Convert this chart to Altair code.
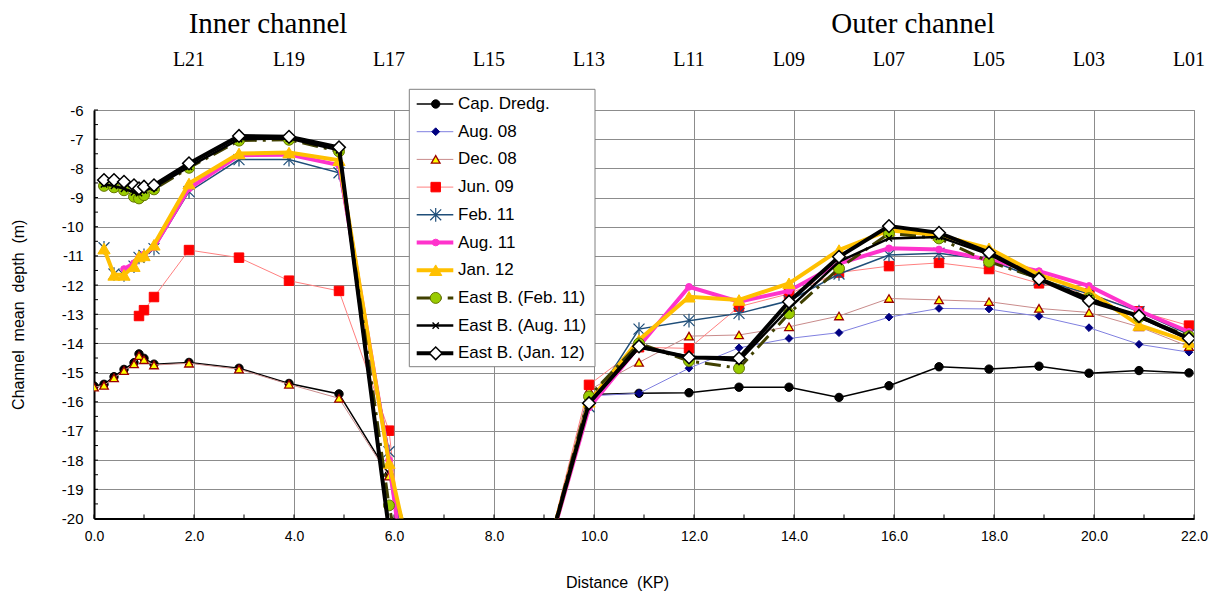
import altair as alt
import pandas as pd

# ---------------- data ----------------
KP_INNER = [0.0, 0.2, 0.4, 0.6, 0.8, 0.9, 1.0, 1.2, 1.9, 2.9, 3.9, 4.9, 5.9]
KP_GAP = [6.9, 8.9]
KP_OUTER = [9.9, 10.9, 11.9, 12.9, 13.9, 14.9, 15.9, 16.9, 17.9, 18.9, 19.9, 20.9, 21.9]
KP_ALL = KP_INNER + KP_GAP + KP_OUTER

SERIES = ["Cap. Dredg.", "Aug. 08", "Dec. 08", "Jun. 09", "Feb. 11", "Aug. 11",
          "Jan. 12", "East B. (Feb. 11)", "East B. (Aug. 11)", "East B. (Jan. 12)"]

N = None
cap_dredg = [-15.46, -15.40, -15.14, -14.89, -14.66, -14.36, -14.51, -14.71, -14.65, -14.85, -15.37, -15.73, -18.50,
             -24.0, -22.2,
             -15.75, -15.71, -15.69, -15.50, -15.50, -15.85, -15.45, -14.80, -14.88, -14.78, -15.02, -14.93, -15.01]
aug_08 = [N, N, N, N, N, N, N, N, N, N, N, N, N,
          N, -22.2,
          -15.80, -15.71, -14.85, -14.15, -13.83, -13.63, -13.10, -12.80, -12.82, -13.07, -13.46, -14.03, -14.30]
dec_08 = [-15.50, -15.44, -15.18, -14.93, -14.70, -14.42, -14.56, -14.74, -14.68, -14.88, -15.40, -15.88, -18.55,
          -28.0, -22.2,
          -15.60, -14.65, -13.75, -13.71, -13.43, -13.06, -12.46, -12.51, -12.57, -12.80, -12.94, -13.43, -14.11]
jun_09 = [N, N, N, N, N, -13.06, -12.86, -12.41, -10.80, -11.06, -11.85, -12.20, -16.99,
          -32.0, -22.2,
          -15.42, -14.13, -14.17, -12.74, -12.30, -11.57, -11.35, -11.24, -11.45, -11.94, -12.28, -12.90, -13.39]
feb_11 = [N, -10.72, -11.62, -11.65, -11.35, -11.05, -10.98, -10.75, -8.80, -7.70, -7.70, -8.15, -17.71,
          -30.0, -22.2,
          -16.17, -13.51, -13.22, -12.97, -12.54, -11.62, -10.97, -10.91, -11.14, -11.80, -12.30, -12.91, -13.70]
aug_11 = [N, N, N, -11.45, -11.25, -11.05, -10.95, -10.70, -8.69, -7.55, -7.53, -7.89, -18.00,
          -31.0, -22.2,
          -16.20, -14.10, -12.06, -12.57, -12.20, -11.26, -10.74, -10.78, -11.14, -11.52, -12.03, -12.88, -13.60]
jan_12 = [N, -10.75, -11.65, -11.65, -11.35, -11.02, -10.98, -10.62, -8.52, -7.49, -7.46, -7.72, -18.10,
          -25.7, -22.2,
          -16.00, -13.88, -12.40, -12.51, -11.94, -10.80, -10.12, -10.29, -10.74, -11.65, -12.22, -13.37, -13.95]
eastb_feb_11 = [N, -8.60, -8.65, -8.75, -8.97, -9.03, -8.92, -8.72, -7.98, -7.05, -7.02, -7.42, -19.55,
                -28.0, -22.2,
                -15.82, -14.00, -14.60, -14.85, -12.97, -11.43, -10.23, -10.40, -11.20, -11.77, -12.45, -13.10, -13.75]
eastb_aug_11 = [N, -8.55, -8.60, -8.70, -8.82, -8.85, -8.75, -8.65, -7.95, -7.00, -6.98, -7.38, -20.30,
                -28.0, -22.2,
                -16.05, -14.15, -14.45, -14.60, -12.80, -11.20, -10.40, -10.35, -10.95, -11.80, -12.45, -13.10, -13.85]
eastb_jan_12 = [N, -8.40, -8.40, -8.46, -8.58, -8.69, -8.63, -8.58, -7.83, -6.89, -6.92, -7.28, -20.40,
                -28.0, -22.2,
                -16.05, -14.10, -14.48, -14.51, -12.57, -11.03, -9.98, -10.21, -10.89, -11.79, -12.54, -13.06, -13.83]

VALUES = [cap_dredg, aug_08, dec_08, jun_09, feb_11, aug_11, jan_12, eastb_feb_11, eastb_aug_11, eastb_jan_12]

SURVEY_KP = [1.9, 3.9, 5.9, 7.9, 9.9, 11.9, 13.9, 15.9, 17.9, 19.9, 21.9]
SURVEY_LABELS = ["L21", "L19", "L17", "L15", "L13", "L11", "L09", "L07", "L05", "L03", "L01"]

X_TICKS = [0, 2, 4, 6, 8, 10, 12, 14, 16, 18, 20, 22]
Y_TICKS = list(range(-20, -5))
X_MINOR = list(range(0, 23))
Y_MINOR = [v / 2 for v in range(-40, -11)]

rows = []
for name, vals in zip(SERIES, VALUES):
    for kp, d in zip(KP_ALL, vals):
        if d is not None:
            rows.append({"series": name, "kp": kp, "depth": d})
data = pd.DataFrame(rows)

# ---------------- styles ----------------
ASTERISK = "M-1,-1L1,1M-1,1L1,-1M0,-1.25L0,1.25"
XMARK = "M-1,-1L1,1M-1,1L1,-1"
STYLE = {
    "Cap. Dredg.": dict(color="#000000", width=1.5, shape="circle", fill="#000000", stroke="#000000", size=70, sw=1),
    "Aug. 08": dict(color="#8080e0", width=1, shape="diamond", fill="#000080", stroke="#000080", size=60, sw=1),
    "Dec. 08": dict(color="#c98b8b", width=1, shape="triangle-up", fill="#ffff00", stroke="#990000", size=75, sw=1.3),
    "Jun. 09": dict(color="#ff8080", width=1, shape="square", fill="#ff0000", stroke="#ff0000", size=90, sw=1),
    "Feb. 11": dict(color="#1f4e79", width=1.5, shape=ASTERISK, fill=None, stroke="#1f4e79", size=120, sw=1.2),
    "Aug. 11": dict(color="#ff33cc", width=4, shape="circle", fill="#ff33cc", stroke="#ff33cc", size=45, sw=1),
    "Jan. 12": dict(color="#ffc000", width=4, shape="triangle-up", fill="#ffc000", stroke="#ffc000", size=150, sw=1),
    "East B. (Feb. 11)": dict(color="#404000", width=3, dash=[16, 6, 3, 6], shape="circle", fill="#99cc00",
                              stroke="#667700", size=120, sw=1),
    "East B. (Aug. 11)": dict(color="#000000", width=2.5, shape=XMARK, fill=None, stroke="#000000", size=40, sw=1.4),
    "East B. (Jan. 12)": dict(color="#000000", width=4, shape="diamond", fill="#ffffff", stroke="#000000", size=160, sw=1.5),
}

W, H = 1100, 408.5
SANS = "Liberation Sans"
SERIF = "Liberation Serif"
GRID = "#8c8c8c"

X = alt.X("kp:Q", scale=alt.Scale(domain=[0, 22], nice=False, zero=False),
          axis=alt.Axis(values=X_TICKS, format=".1f", title="Distance\u00a0\u00a0(KP)", grid=True,
                        gridColor=GRID, gridWidth=1, domainColor="#000000", domainWidth=2, ticks=False,
                        labelFlush=False, labelPadding=11, labelFont=SANS, labelFontSize=14, labelColor="#000000",
                        titleFont=SANS, titleFontSize=16, titleFontWeight="normal", titleColor="#000000",
                        titleX=523, titleY=64, titleBaseline="middle", titleAlign="center"))
Y = alt.Y("depth:Q", scale=alt.Scale(domain=[-20, -6], nice=False, zero=False),
          axis=alt.Axis(values=Y_TICKS, labelExpr="'' + datum.value", title="Channel\u00a0\u00a0mean\u00a0\u00a0depth\u00a0\u00a0(m)",
                        grid=True, gridColor=GRID, gridWidth=1, domainColor="#000000", domainWidth=2, ticks=False,
                        labelFlush=False, labelPadding=11, labelFont=SANS, labelFontSize=15, labelColor="#000000",
                        titleFont=SANS, titleFontSize=16, titleFontWeight="normal", titleColor="#000000",
                        titleX=-76, titleY=H / 2, titleBaseline="middle", titleAlign="center"))


def point_props(st):
    p = dict(shape=st["shape"], size=st["size"], stroke=st["stroke"], strokeWidth=st["sw"], opacity=1)
    if st["fill"] is not None:
        p.update(filled=True, fill=st["fill"])
    else:
        p.update(filled=False)
    return p


def line_props(st):
    p = dict(color=st["color"], strokeWidth=st["width"])
    if st.get("dash"):
        p["strokeDash"] = st["dash"]
    return p


layers = []

# inside minor ticks
layers.append(alt.Chart(pd.DataFrame({"kp": X_MINOR})).mark_rule(color="#000000", strokeWidth=1).encode(
    x=X, y=alt.value(H), y2=alt.value(H - 4)))
layers.append(alt.Chart(pd.DataFrame({"depth": Y_MINOR})).mark_rule(color="#000000", strokeWidth=1).encode(
    y=Y, x=alt.value(0), x2=alt.value(4)))

for name in SERIES:
    st = STYLE[name]
    base = alt.Chart(data[data.series == name]).encode(x=X, y=Y)
    layers.append(base.mark_line(clip=True, **line_props(st)))
    layers.append(base.mark_point(clip=True, **point_props(st)))

# survey line labels on top
lab = pd.DataFrame({"kp": SURVEY_KP, "label": SURVEY_LABELS})
layers.append(alt.Chart(lab).mark_text(font=SERIF, fontSize=20, color="#000000", baseline="middle",
                                       align="center").encode(x=X, y=alt.value(-50), text="label:N"))

# titles
for txt, px in [("Inner channel", 174), ("Outer channel", 819)]:
    layers.append(alt.Chart(pd.DataFrame({"t": [txt]})).mark_text(
        font=SERIF, fontSize=29, color="#000000", baseline="top", align="center").encode(
        x=alt.value(px), y=alt.value(-100), text="t:N"))

# legend
one = pd.DataFrame({"a": [0]})
layers.append(alt.Chart(one).mark_rect(fill="#ffffff", stroke="#808080", strokeWidth=1).encode(
    x=alt.value(315.3), x2=alt.value(501), y=alt.value(-20.7), y2=alt.value(256.7)))
for i, name in enumerate(SERIES):
    st = STYLE[name]
    yy = -6 + 27.7 * i
    row = pd.DataFrame({"label": [name]})
    layers.append(alt.Chart(row).mark_rule(**line_props(st)).encode(
        x=alt.value(322.7), x2=alt.value(359.3), y=alt.value(yy)))
    layers.append(alt.Chart(row).mark_point(**point_props(st)).encode(
        x=alt.value(341.7), y=alt.value(yy)))
    layers.append(alt.Chart(row).mark_text(font=SANS, fontSize=17, color="#000000", align="left",
                                           baseline="middle").encode(
        x=alt.value(364), y=alt.value(yy), text="label:N"))

chart = alt.layer(*layers).properties(
    width=W, height=H,
    autosize=alt.AutoSizeParams(type="none"),
    padding={"left": 86, "top": 102, "right": 22, "bottom": 77},
    background="#ffffff",
).configure_view(stroke="#808080", strokeWidth=1)

chart.save("out.html", embed_options={"renderer": "svg", "actions": False})
